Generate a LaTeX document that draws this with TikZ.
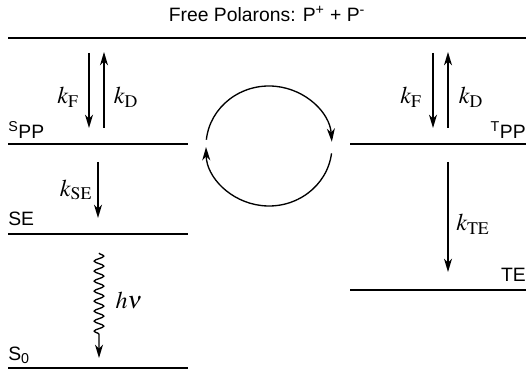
\documentclass[tikz,border=0pt]{standalone}
\usepackage{mathptmx}
\usepackage{fontspec}
\setmainfont{Liberation Sans}
\usepackage{tikz}
\usetikzlibrary{positioning,calc,arrows.meta,decorations.pathmorphing}

\begin{document}
\begin{tikzpicture}[x=0.75pt,y=0.75pt,
   lvl/.style={line width=2.2pt},
   gnd/.style={line width=1pt},
   tr/.style={line width=1pt,-{Stealth[length=10pt,width=6pt,inset=3pt]}},
   lab/.style={inner sep=0pt,font=\fontsize{14.5}{16}\selectfont},
   rate/.style={inner sep=0pt,font=\fontsize{18}{20}\selectfont}]
\useasboundingbox (0,0) rectangle (532,370);
%% ---- levels ----
\coordinate (fpL) at (8,332);   \coordinate (fpR) at (526,332);
\coordinate (sppL) at (8,226);  \coordinate (sppR) at (188,226);
\coordinate (tppL) at (350,226); \coordinate (tppR) at (526,226);
\coordinate (seL) at (8,136);   \coordinate (seR) at (188,136);
\coordinate (teL) at (350,80);  \coordinate (teR) at (526,80);
\coordinate (gsL) at (8,2);     \coordinate (gsR) at (188,2);
\draw[lvl] (fpL)--(fpR) (sppL)--(sppR) (tppL)--(tppR) (seL)--(seR) (teL)--(teR);
\draw[gnd] (gsL)--(gsR);
\node[lab] (fp) at (267,356) {Free Polarons: P\textsuperscript{+} + P\textsuperscript{-}};
\node[lab,anchor=west] (spp) at (8,240) {\textsuperscript{S}PP};
\node[lab,anchor=east] (tpp) at (526,240) {\textsuperscript{T}PP};
\node[lab,anchor=west] (se) at (8,151) {SE};
\node[lab,anchor=east] (te) at (526,95) {TE};
\node[lab,anchor=west] (gs) at (8,15) {S\textsubscript{0}};

%% ---- singlet side ----
\coordinate (kf1a) at (89,317);  \coordinate (kf1b) at (89,242);
\coordinate (kd1a) at (104,242); \coordinate (kd1b) at (104,318);
\draw[tr] (kf1a)--(kf1b);
\draw[tr] (kd1a)--(kd1b);
\node[rate] (kf1) at (68,273) {$k_{\mathrm{F}}$};
\node[rate] (kd1) at (126,273) {$k_{\mathrm{D}}$};
\coordinate (kseA) at (98,208);  \coordinate (kseB) at (98,152);
\draw[tr] (kseA)--(kseB);
\node[rate] (kse) at (76,180) {$k_{\mathrm{SE}}$};
\coordinate (hvA) at (99,117);   \coordinate (hvB) at (99,12);
\draw[tr,decorate,decoration={snake,amplitude=3.6pt,segment length=7.5pt,post length=16pt}] (hvA)--(hvB);
\node[rate] (hv) at (129,70) {$h\nu$};

%% ---- triplet side ----
\coordinate (kf2a) at (433,317); \coordinate (kf2b) at (433,242);
\coordinate (kd2a) at (448,242); \coordinate (kd2b) at (448,318);
\draw[tr] (kf2a)--(kf2b);
\draw[tr] (kd2a)--(kd2b);
\node[rate] (kf2) at (411,273) {$k_{\mathrm{F}}$};
\node[rate] (kd2) at (471,273) {$k_{\mathrm{D}}$};
\coordinate (kteA) at (448,208); \coordinate (kteB) at (448,98);
\draw[tr] (kteA)--(kteB);
\node[rate] (kte) at (473,146) {$k_{\mathrm{TE}}$};

%% ---- interconversion cycle ----
\coordinate (c) at (269,224);
\draw[tr] (c) ++(174:63 and 60) arc[start angle=174,end angle=4,x radius=63,y radius=60];
\draw[tr] (c) ++(-7:63 and 60) arc[start angle=-7,end angle=-179,x radius=63,y radius=60];
\end{tikzpicture}
\end{document}
